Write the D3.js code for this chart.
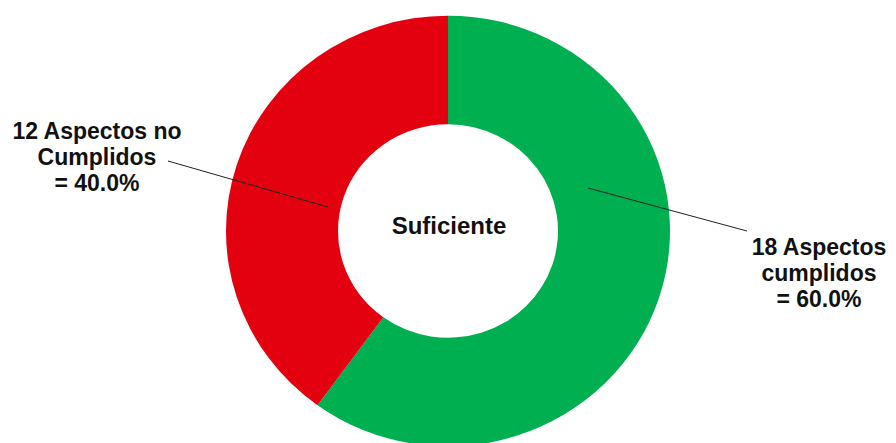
<!DOCTYPE html>
<html>
  <head>
    <meta charset="utf-8">
    <title>Suficiente</title>
    <script src="https://cdn.jsdelivr.net/npm/d3@7"></script>
    <style>
      html, body { margin: 0; padding: 0; background: #ffffff; }
      text { font-family: "Liberation Sans", Arial, sans-serif; font-weight: bold; fill: #111; }
    </style>
  </head>
  <body>
    <div id="chart"></div>
    <script>
      // chart data
      var categories = ["18 Aspectos cumplidos", "12 Aspectos no Cumplidos"];
      var counts = [18, 12];
      var labelLines = [
        ["18 Aspectos", "cumplidos", "= 60.0%"],
        ["12 Aspectos no", "Cumplidos", "= 40.0%"]
      ];
      var colors = ["#00AF50", "#E3000F"];
      var centerLabel = "Suficiente";

      var w = 896, h = 443;
      var cx = 448, cy = 231;
      var outerR = 222, innerR = 110;

      var svg = d3.select("#chart")
                  .append("svg")
                  .attr("width", w)
                  .attr("height", h);

      var pie = d3.pie().sort(null).value(function (d) { return d; });
      var arc = d3.arc().innerRadius(innerR).outerRadius(outerR);
      var color = d3.scaleOrdinal().domain(categories).range(colors);

      // slightly squashed vertically, like the picture
      var g = svg.append("g")
                 .attr("transform", "translate(" + cx + "," + cy + ") scale(1,0.97)");

      g.selectAll("path")
        .data(pie(counts))
        .enter()
        .append("path")
        .attr("d", arc)
        .attr("fill", function (d, i) { return color(categories[i]); });

      svg.append("text")
        .attr("x", cx + 1)
        .attr("y", 234)
        .attr("text-anchor", "middle")
        .attr("font-size", 24)
        .text(centerLabel);

      // leader lines: from a point inside the slice out to the label
      var leaders = [
        { from: [588, 188], to: [747, 231] },
        { from: [328, 207], to: [168, 161] }
      ];
      var labelPos = [
        { x: 819, y: 255 },
        { x: 97, y: 139 }
      ];

      svg.selectAll("line.leader")
        .data(leaders)
        .enter()
        .append("line")
        .attr("class", "leader")
        .attr("x1", function (d) { return d.from[0]; })
        .attr("y1", function (d) { return d.from[1]; })
        .attr("x2", function (d) { return d.to[0]; })
        .attr("y2", function (d) { return d.to[1]; })
        .attr("stroke", "#222")
        .attr("stroke-width", 1);

      labelLines.forEach(function (lines, i) {
        var t = svg.append("text")
          .attr("text-anchor", "middle")
          .attr("font-size", 23);
        lines.forEach(function (s, j) {
          t.append("tspan")
            .attr("x", labelPos[i].x)
            .attr("y", labelPos[i].y + j * 26)
            .text(s);
        });
      });
    </script>
  </body>
</html>
